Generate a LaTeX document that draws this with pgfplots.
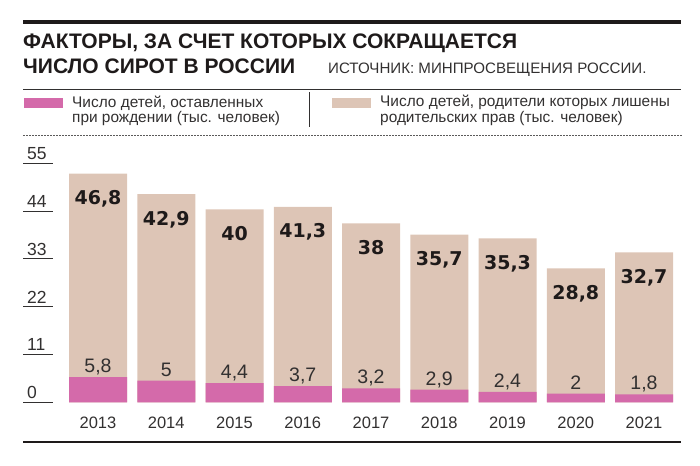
\documentclass[border=0pt]{standalone}
\usepackage{fontspec}
\usepackage{pgfplots}
\usepackage{pgfplotstable}
\pgfplotsset{compat=1.18}
\setmainfont{Liberation Sans}
\newfontfamily\heavyfont{DejaVu Sans}

\definecolor{ink}{RGB}{30,26,26}
\definecolor{txt}{RGB}{50,48,48}
\definecolor{pinkc}{RGB}{212,106,170}
\definecolor{beigec}{RGB}{221,197,182}

% x: 0 = 2013 ... 8 = 2021; values in thousands
\pgfplotstableread{
x pink beige
0 5.8 46.8
1 5.0 42.9
2 4.4 40.0
3 3.7 41.3
4 3.2 38.0
5 2.9 35.7
6 2.4 35.3
7 2.0 28.8
8 1.8 32.7
}\orphans

\begin{document}
\begin{tikzpicture}[x=1pt,y=1pt]
\path[use as bounding box] (0,0) rectangle (700,465);

% header
\draw[ink, line width=4pt] (23,443) -- (681,443);
\node[anchor=base west, inner sep=0, text=ink, font=\bfseries\fontsize{21}{21}\selectfont]
  at (23,416) {ФАКТОРЫ, ЗА СЧЕТ КОТОРЫХ СОКРАЩАЕТСЯ};
\node[anchor=base west, inner sep=0, text=ink, font=\bfseries\fontsize{21}{21}\selectfont]
  at (23,391.7) {ЧИСЛО СИРОТ В РОССИИ};
\node[anchor=base west, inner sep=0, text=txt, font=\fontsize{15.1}{15}\selectfont]
  at (328,391) {ИСТОЧНИК: МИНПРОСВЕЩЕНИЯ РОССИИ.};
\draw[txt, line width=1pt] (23,375) -- (681,375);

% legend
\fill[pinkc] (24,357) rectangle (63,367);
\node[anchor=base west, inner sep=0, text=txt, align=left, font=\fontsize{15.4}{14}\selectfont]
  at (72,342.7) {Число детей, оставленных\\при рождении (тыс. человек)};
\draw[txt, line width=1pt] (309,338) -- (309,373);
\fill[beigec] (332,357) rectangle (371,367);
\node[anchor=base west, inner sep=0, text=txt, align=left, font=\fontsize{15.4}{14}\selectfont]
  at (380,342.7) {Число детей, родители которых лишены\\родительских прав (тыс. человек)};
\draw[txt!80, line width=0.6pt, dash pattern=on 1.5pt off 1.5pt] (23,330) -- (682,330);

% short rules under the y tick numbers
\foreach \v in {0,11,22,33,44,55}
  \draw[txt, line width=0.9pt] (23,62.7+\v*4.34545) -- (53,62.7+\v*4.34545);

% bottom rule
\draw[ink, line width=1.5pt] (23,23) -- (681,23);

\begin{axis}[
  at={(63.875pt,62.7pt)}, anchor=south west,
  scale only axis, width=614.25pt, height=239pt,
  xmin=-0.5, xmax=8.5, ymin=0, ymax=55,
  ybar, bar width=58pt,
  axis lines*=left, axis line style={draw=none,-},
  major tick length=0pt,
  xtick={0,...,8},
  xticklabels={2013,2014,2015,2016,2017,2018,2019,2020,2021},
  ytick={0,11,22,33,44,55},
  /pgf/number format/assume math mode=true,
  /pgf/number format/use comma,
  xticklabel style={anchor=base, yshift=-26.4pt, inner sep=0, text=txt,
    font=\fontsize{16.5}{16.5}\selectfont},
  yticklabel style={anchor=south west, xshift=-36.9pt, yshift=3.3pt, inner sep=0, text=txt,
    font=\fontsize{17.5}{17.5}\selectfont},
  clip=false,
]
% whole bar (pink + beige), labelled with the beige part
\addplot[fill=beigec, draw=none, bar shift=0pt, nodes near coords, point meta=explicit,
  nodes near coords style={anchor=base, yshift=-31pt, inner sep=0, text=ink,
    font=\heavyfont\bfseries\fontsize{19}{19}\selectfont}]
  table[x=x, y expr=\thisrow{pink}+\thisrow{beige}, meta=beige] {\orphans};
% pink part at the foot of the bar
\addplot[fill=pinkc, draw=none, bar shift=0pt, nodes near coords, point meta=explicit,
  nodes near coords style={anchor=base, yshift=4.5pt, inner sep=0, text=txt,
    font=\fontsize{19.5}{19.5}\selectfont}]
  table[x=x, y=pink, meta=pink] {\orphans};
\end{axis}
\end{tikzpicture}
\end{document}
